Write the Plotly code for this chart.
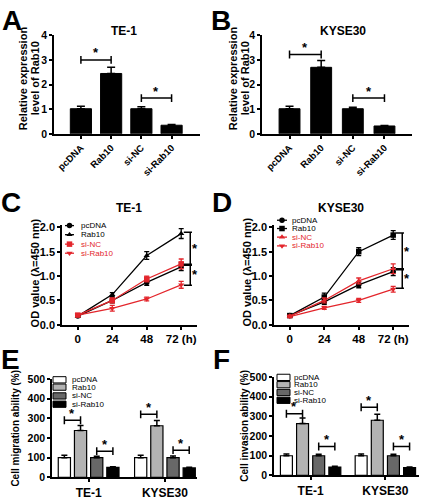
import plotly.graph_objects as go

W, H = 425, 500
FONT = "Liberation Sans, Arial, sans-serif"
RED = "#e3262c"
BLK = "#000000"

# ---------------- data ----------------
expr_categories = ["pcDNA", "Rab10", "si-NC", "si-Rab10"]
te1_expr = [1.02, 2.45, 1.02, 0.35]
te1_expr_err = [0.10, 0.25, 0.08, 0.03]
kyse_expr = [1.02, 2.70, 1.02, 0.32]
kyse_expr_err = [0.10, 0.28, 0.06, 0.02]
te1_expr_sig = [3.00, 1.45]      # bracket heights: pcDNA-Rab10, si-NC-si-Rab10
kyse_expr_sig = [3.22, 1.45]

hours = [0, 24, 48, 72]
hour_labels = ["0", "24", "48", "72 (h)"]
od_series = ["pcDNA", "Rab10", "si-NC", "si-Rab10"]
te1_od_pcdna = [0.18, 0.50, 0.87, 1.19]
te1_od_rab10 = [0.18, 0.62, 1.42, 1.87]
te1_od_sinc = [0.20, 0.50, 0.94, 1.25]
te1_od_sirab10 = [0.20, 0.34, 0.53, 0.82]
te1_od_pcdna_err = [0.02, 0.05, 0.06, 0.08]
te1_od_rab10_err = [0.02, 0.04, 0.08, 0.10]
te1_od_sinc_err = [0.02, 0.05, 0.06, 0.10]
te1_od_sirab10_err = [0.02, 0.06, 0.04, 0.07]
kyse_od_pcdna = [0.19, 0.47, 0.82, 1.09]
kyse_od_rab10 = [0.19, 0.57, 1.50, 1.84]
kyse_od_sinc = [0.18, 0.50, 0.90, 1.15]
kyse_od_sirab10 = [0.17, 0.35, 0.50, 0.73]
kyse_od_pcdna_err = [0.02, 0.05, 0.06, 0.08]
kyse_od_rab10_err = [0.02, 0.08, 0.08, 0.09]
kyse_od_sinc_err = [0.02, 0.05, 0.06, 0.10]
kyse_od_sirab10_err = [0.02, 0.03, 0.04, 0.06]
te1_od_sig = [(1.90, 1.22), (1.24, 0.81)]
kyse_od_sig = [(1.88, 1.13), (1.15, 0.75)]

cell_lines = ["TE-1", "KYSE30"]
assay_series = ["pcDNA", "Rab10", "si-NC", "si-Rab10"]
mig_pcdna = [100, 100]
mig_rab10 = [238, 262]
mig_sinc = [100, 100]
mig_sirab10 = [51, 48]
mig_pcdna_err = [12, 13]
mig_rab10_err = [25, 27]
mig_sinc_err = [7, 8]
mig_sirab10_err = [3, 3]
mig_sig_up = [290, 320]      # pcDNA vs Rab10 bracket per cell line
mig_sig_down = [133, 138]    # si-NC vs si-Rab10
inv_pcdna = [100, 100]
inv_rab10 = [263, 280]
inv_sinc = [100, 100]
inv_sirab10 = [43, 40]
inv_pcdna_err = [9, 9]
inv_rab10_err = [28, 30]
inv_sinc_err = [8, 7]
inv_sirab10_err = [4, 3]
inv_sig_up = [313, 346]
inv_sig_down = [147, 147]

# ---------------- layout geometry (pixels) ----------------
P = {
    'A': dict(n='', xpx=(54, 200), ypx=(30, 131), xr=[-0.89, 3.94], yr=[0, 4]),
    'B': dict(n='2', xpx=(262, 412), ypx=(30, 131), xr=[-0.87, 3.87], yr=[0, 4]),
    'C': dict(n='3', xpx=(62, 197), ypx=(224.2, 326.7), xr=[-11, 83], yr=[0, 2.05]),
    'D': dict(n='4', xpx=(274, 409), ypx=(224.2, 326.7), xr=[-11, 83], yr=[0, 2.05]),
    'E': dict(n='5', xpx=(52, 197), ypx=(382, 483), xr=[-0.48, 1.42], yr=[0, 500]),
    'F': dict(n='6', xpx=(274, 419), ypx=(380, 481), xr=[-0.49, 1.45], yr=[0, 500]),
}


def yunit(p):
    return (p['yr'][1] - p['yr'][0]) / (p['ypx'][1] - p['ypx'][0])


def bfont(size, color=BLK, bold=True):
    d = dict(family=FONT, size=size, color=color)
    if bold:
        d['weight'] = 'bold'
    return d


fig = go.Figure()
shapes = []
annots = []

layout_axes = {}
for key, p in P.items():
    n = p['n']
    layout_axes['xaxis' + n] = dict(
        domain=[p['xpx'][0] / W, p['xpx'][1] / W], range=p['xr'], anchor='y' + n,
        showline=True, linecolor=BLK, linewidth=1.5, ticks='outside', ticklen=3,
        tickwidth=1.5, tickcolor=BLK, showgrid=False, zeroline=False, fixedrange=True)
    layout_axes['yaxis' + n] = dict(
        domain=[1 - p['ypx'][1] / H, 1 - p['ypx'][0] / H], range=p['yr'], anchor='x' + n,
        showline=True, linecolor=BLK, linewidth=1.5, ticks='outside', ticklen=3,
        tickwidth=1.5, tickcolor=BLK, showgrid=False, zeroline=False, fixedrange=True)

# pixel overlay axes for legends / labels
layout_axes['xaxis7'] = dict(domain=[0, 1], range=[0, W], visible=False, fixedrange=True, anchor='y7')
layout_axes['yaxis7'] = dict(domain=[0, 1], range=[H, 0], visible=False, fixedrange=True, anchor='x7')


def line(xref, yref, x0, y0, x1, y1, color=BLK, width=1.5):
    shapes.append(dict(type='line', xref=xref, yref=yref, x0=x0, y0=y0, x1=x1, y1=y1,
                       line=dict(color=color, width=width), layer='above'))


def star(xref, yref, x, y, yshift=3, xshift=0):
    annots.append(dict(xref=xref, yref=yref, x=x, y=y, text='*', showarrow=False,
                       font=bfont(13), xanchor='center', yanchor='middle',
                       yshift=yshift, xshift=xshift))


def hbracket(p, x0, x1, y):
    n = p['n']
    xr, yr = 'x' + n, 'y' + n
    half = 4 * yunit(p)
    line(xr, yr, x0, y, x1, y)
    line(xr, yr, x0, y - half, x0, y + half)
    line(xr, yr, x1, y - half, x1, y + half)
    star(xr, yr, (x0 + x1) / 2, y, yshift=7)


# ---------- A & B: expression bars ----------
xcat = list(range(len(expr_categories)))
for key, vals, errs, sig, bw in [
        ('A', te1_expr, te1_expr_err, te1_expr_sig, 0.70),
        ('B', kyse_expr, kyse_expr_err, kyse_expr_sig, 0.66)]:
    p = P[key]
    n = p['n']
    fig.add_trace(go.Bar(
        x=xcat, y=vals, width=bw, xaxis='x' + n, yaxis='y' + n,
        marker=dict(color=BLK, line=dict(color=BLK, width=1)),
        error_y=dict(type='data', array=errs, arrayminus=[0] * len(errs), symmetric=False,
                     color=BLK, thickness=1.5, width=4),
        showlegend=False, hoverinfo='skip'))
    layout_axes['xaxis' + n].update(tickvals=xcat, ticktext=expr_categories, tickangle=-45,
                                    tickfont=bfont(9.5))
    layout_axes['yaxis' + n].update(tickvals=[0, 1, 2, 3, 4], tickfont=bfont(10.5))
    hbracket(p, xcat[0], xcat[1], sig[0])
    hbracket(p, xcat[2], xcat[3], sig[1])

# ---------- C & D: OD curves ----------
od_sets = {
    'C': ([te1_od_pcdna, te1_od_rab10, te1_od_sinc, te1_od_sirab10],
          [te1_od_pcdna_err, te1_od_rab10_err, te1_od_sinc_err, te1_od_sirab10_err],
          ['circle', 'triangle-up', 'square', 'triangle-down'], te1_od_sig),
    'D': ([kyse_od_pcdna, kyse_od_rab10, kyse_od_sinc, kyse_od_sirab10],
          [kyse_od_pcdna_err, kyse_od_rab10_err, kyse_od_sinc_err, kyse_od_sirab10_err],
          ['circle', 'square', 'triangle-up', 'triangle-down'], kyse_od_sig),
}
od_colors = [BLK, BLK, RED, RED]
for key in ['C', 'D']:
    p = P[key]
    n = p['n']
    vals, errs, syms, sig = od_sets[key]
    for i in range(4):
        fig.add_trace(go.Scatter(
            x=hours, y=vals[i], mode='lines+markers', xaxis='x' + n, yaxis='y' + n,
            line=dict(color=od_colors[i], width=1.3),
            marker=dict(symbol=syms[i], size=5.5, color=od_colors[i]),
            error_y=dict(type='data', array=errs[i], color=od_colors[i], thickness=1.3, width=2.5),
            showlegend=False, hoverinfo='skip', cliponaxis=False))
    layout_axes['xaxis' + n].update(tickvals=hours, ticktext=hour_labels, tickfont=bfont(11.5))
    layout_axes['yaxis' + n].update(tickvals=[0, 0.5, 1.0, 1.5, 2.0], tickformat='.1f',
                                    tickfont=bfont(11))
    xr, yr = 'x' + n, 'y' + n
    vx = hours[-1] + 6.3
    for (top, bot) in sig:
        line(xr, yr, vx, top, vx, bot)
        line(xr, yr, vx - 4.5, top, vx + 1.2, top)
        line(xr, yr, vx - 4.5, bot, vx + 1.2, bot)
        star(xr, yr, vx + 3.5, (top + bot) / 2, yshift=0)

# ---------- E & F: migration / invasion bars ----------
bar_fill = ['#ffffff', '#b3b3b3', '#686868', '#000000']
slot = {'E': 0.212, 'F': 0.216}
bwid = {'E': 0.16, 'F': 0.16}
assay = {
    'E': ([mig_pcdna, mig_rab10, mig_sinc, mig_sirab10],
          [mig_pcdna_err, mig_rab10_err, mig_sinc_err, mig_sirab10_err],
          mig_sig_up, mig_sig_down),
    'F': ([inv_pcdna, inv_rab10, inv_sinc, inv_sirab10],
          [inv_pcdna_err, inv_rab10_err, inv_sinc_err, inv_sirab10_err],
          inv_sig_up, inv_sig_down),
}
gidx = list(range(len(cell_lines)))
for key in ['E', 'F']:
    p = P[key]
    n = p['n']
    vals, errs, sup, sdown = assay[key]
    xs_all = []
    for s in range(4):
        xs = [g + (s - 1.5) * slot[key] for g in gidx]
        xs_all.append(xs)
        fig.add_trace(go.Bar(
            x=xs, y=vals[s], width=bwid[key], xaxis='x' + n, yaxis='y' + n,
            marker=dict(color=bar_fill[s], line=dict(color=BLK, width=1.2)),
            error_y=dict(type='data', array=errs[s], arrayminus=[0] * len(gidx), symmetric=False,
                         color=BLK, thickness=1.5, width=3),
            showlegend=False, hoverinfo='skip'))
    for g in gidx:
        hbracket(p, xs_all[0][g], xs_all[1][g], sup[g])
        hbracket(p, xs_all[2][g], xs_all[3][g], sdown[g])
    layout_axes['xaxis' + n].update(tickvals=gidx, ticktext=cell_lines, tickfont=bfont(12))
    layout_axes['yaxis' + n].update(tickvals=[0, 100, 200, 300, 400, 500], tickfont=bfont(10.5))

# ---------- legends (drawn in pixel space) ----------
leg_mx, leg_my, leg_sym, leg_col = [], [], [], []
legC = dict(rows=[225.0, 234.3, 244.0, 253.3], lx=(65, 74), tx=80,
            syms=['circle', 'triangle-up', 'square', 'triangle-down'])
legD = dict(rows=[219.5, 228.0, 236.8, 245.8], lx=(277, 287), tx=291,
            syms=['circle', 'square', 'triangle-up', 'triangle-down'])
for lg in [legC, legD]:
    for i, name in enumerate(od_series):
        yy = lg['rows'][i]
        line('x7', 'y7', lg['lx'][0], yy, lg['lx'][1], yy, color=od_colors[i], width=1.3)
        leg_mx.append((lg['lx'][0] + lg['lx'][1]) / 2)
        leg_my.append(yy)
        leg_sym.append(lg['syms'][i])
        leg_col.append(od_colors[i])
        annots.append(dict(xref='x7', yref='y7', x=lg['tx'], y=yy, text=name, showarrow=False,
                           xanchor='left', yanchor='middle', borderpad=0,
                           font=bfont(8, color=od_colors[i], bold=False)))
fig.add_trace(go.Scatter(x=leg_mx, y=leg_my, mode='markers', xaxis='x7', yaxis='y7',
                         marker=dict(symbol=leg_sym, color=leg_col, size=5.5),
                         showlegend=False, hoverinfo='skip', cliponaxis=False))

legE = dict(rows=[383.0, 390.5, 399.5, 408.0], bx=(53, 66), tx=71)
legF = dict(rows=[380.5, 388.0, 396.0, 404.0], bx=(277, 290), tx=293)
for lg in [legE, legF]:
    for i, name in enumerate(assay_series):
        yy = lg['rows'][i]
        shapes.append(dict(type='rect', xref='x7', yref='y7', x0=lg['bx'][0], x1=lg['bx'][1],
                           y0=yy - 3.2, y1=yy + 3.2, fillcolor=bar_fill[i],
                           line=dict(color=BLK, width=1), layer='above'))
        annots.append(dict(xref='x7', yref='y7', x=lg['tx'], y=yy, text=name, showarrow=False,
                           xanchor='left', yanchor='middle', borderpad=0,
                           font=bfont(8, bold=False)))

# ---------- titles, axis titles, panel letters ----------
def txt(x, y, text, size, angle=0, bold=True):
    annots.append(dict(xref='x7', yref='y7', x=x, y=y, text=text, showarrow=False,
                       xanchor='center', yanchor='middle', textangle=angle,
                       font=bfont(size, bold=bold)))


for letter, x, y in [('A', 12, 15), ('B', 221, 15), ('C', 11, 201), ('D', 222, 201),
                     ('E', 10, 362), ('F', 221, 362)]:
    txt(x, y, letter, 28)

txt(124, 26, 'TE-1', 12)
txt(343, 26, 'KYSE30', 12)
txt(129, 207, 'TE-1', 12)
txt(341, 207, 'KYSE30', 12)

txt(23, 74, 'Relative expression', 11, -90)
txt(35, 74, 'level of Rab10', 11, -90)
txt(233, 74, 'Relative expression', 11, -90)
txt(245, 74, 'level of Rab10', 11, -90)
txt(35, 274, 'OD value (λ=450 nm)', 11, -90)
txt(247, 273, 'OD value (λ=450 nm)', 11, -90)
txt(16, 433, 'Cell migration ability (%)', 10, -90)
txt(245, 430, 'Cell invasion ability (%)', 10, -90)

fig.update_layout(
    width=W, height=H, autosize=False,
    margin=dict(l=0, r=0, t=0, b=0, pad=0),
    paper_bgcolor='white', plot_bgcolor='rgba(0,0,0,0)',
    barmode='overlay', showlegend=False,
    font=dict(family=FONT, color=BLK),
    shapes=shapes, annotations=annots,
    **layout_axes)

fig.write_html("out.html", config={'displayModeBar': False},
               post_script="document.body.style.margin='0';")
